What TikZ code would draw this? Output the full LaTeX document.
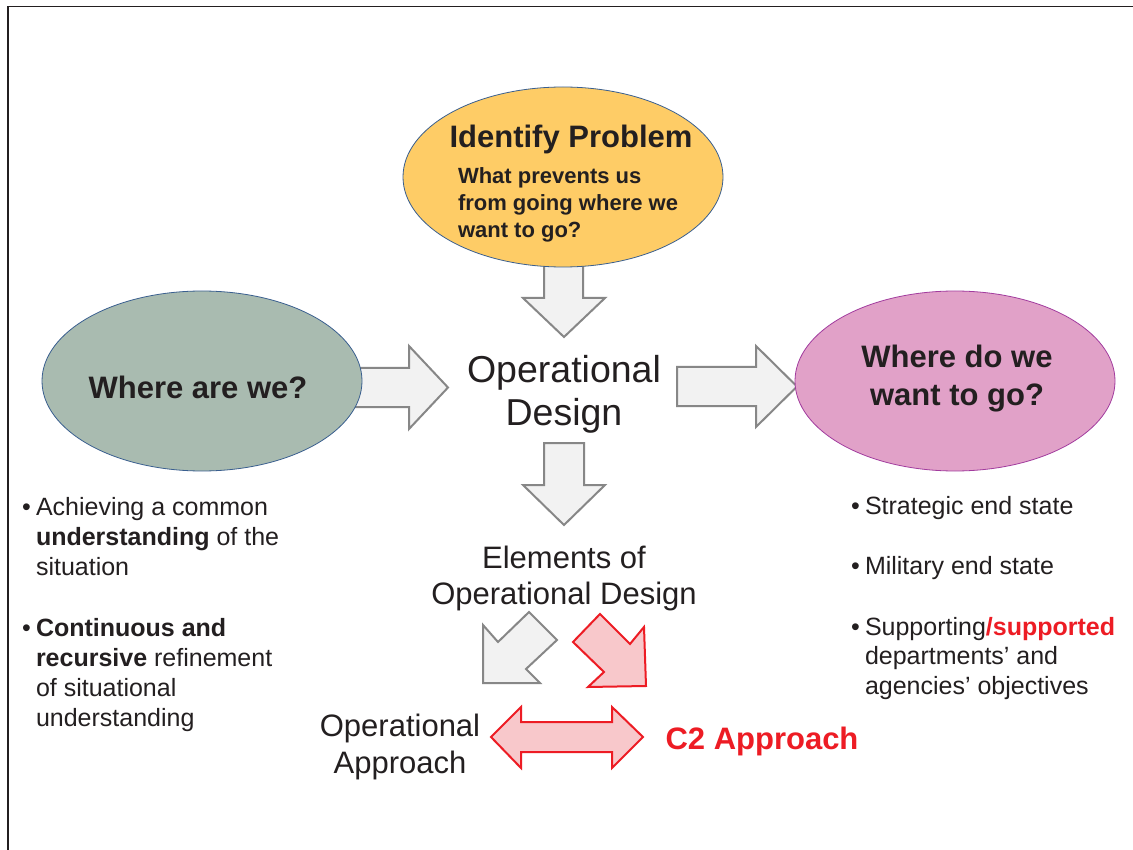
\documentclass[tikz,border=0pt]{standalone}
\usepackage{fontspec}
\setmainfont{Liberation Sans}
\usetikzlibrary{shapes.geometric}
\definecolor{ink}{HTML}{231F20}
\definecolor{yellowfill}{HTML}{FECC66}
\definecolor{greenfill}{HTML}{A9BBB0}
\definecolor{pinkfill}{HTML}{E1A1C8}
\definecolor{blueline}{HTML}{3A5F8F}
\definecolor{purpleline}{HTML}{A23C9E}
\definecolor{arrowfill}{HTML}{F2F2F2}
\definecolor{arrowline}{HTML}{878787}
\definecolor{redline}{HTML}{ED1C24}
\definecolor{redfill}{HTML}{F8C8CB}
\newcommand\setfs[2]{\fontsize{#1}{#2}\selectfont}
\begin{document}
\begin{tikzpicture}[x=1pt,y=-1pt,
  txt/.style={inner sep=0pt, outer sep=0pt, text=ink},
  oval/.style={ellipse, minimum width=320pt, minimum height=180pt, inner sep=0pt, line width=0.8pt},
  grayarrow/.style={fill=arrowfill, draw=arrowline, line width=2pt, line join=miter},
  redarrow/.style={fill=redfill, draw=redline, line width=2pt, line join=miter},
  para/.style={txt, anchor=north west, align=left, font=\setfs{25}{30}},
  bul/.style={txt, anchor=base west, font=\setfs{25}{30}}]
\useasboundingbox (0,0) rectangle (1133,850);
\fill[white] (0,0) rectangle (1133,850);
\draw[ink, line width=1.8pt] (8,850) -- (8,6.5) -- (1133,6.5);

% block arrows (behind the ovals)
\draw[grayarrow] (544,255) -- (544,298) -- (523,298) -- (564,337) -- (605,298) -- (583,298) -- (583,255) -- cycle;
\draw[grayarrow] (345,368) -- (409,368) -- (409,346) -- (448,387.5) -- (409,429) -- (409,407) -- (345,407) -- cycle;
\draw[grayarrow] (677,367) -- (756,367) -- (756,346) -- (797,386.5) -- (756,427) -- (756,406) -- (677,406) -- cycle;
\draw[grayarrow] (544,443) -- (584,443) -- (584,485) -- (605,485) -- (564,525) -- (523,485) -- (544,485) -- cycle;
\draw[grayarrow] (483,683) -- (483,625) -- (498,642) -- (529,612) -- (557,640) -- (526,669) -- (540,683) -- cycle;
\draw[redarrow] (646,686) -- (644,627) -- (630,644) -- (600,614) -- (573,642) -- (604,672) -- (588,687) -- cycle;
\draw[redarrow] (491,737) -- (521,707) -- (521,722) -- (612,722) -- (612,707) -- (643,737) -- (612,768) -- (612,752) -- (521,752) -- (521,768) -- cycle;

% ovals
\node[oval, fill=yellowfill, draw=blueline] (problem) at (563,177) {};
\node[oval, fill=greenfill, draw=blueline] (where) at (202,381) {};
\node[oval, fill=pinkfill, draw=purpleline] (goal) at (955,381) {};

% oval texts
\node[txt, anchor=base, font=\setfs{31}{38}\bfseries] (problemtitle) at (571,148) {Identify Problem};
\node[txt, anchor=north west, align=left, font=\setfs{22}{27}\bfseries] (problemtext) at (458,165.1) {\strut What prevents us\\from going where we\\want to go?};
\node[txt, anchor=base, font=\setfs{31}{38}\bfseries] (wheretext) at (198,399) {Where are we?};
\node[txt, anchor=north, align=center, font=\setfs{31}{38}\bfseries] (goaltext) at (957,341.4) {\strut Where do we\\want to go?};

% centre column texts
\node[txt, anchor=north, align=center, font=\setfs{37.5}{43}] (opdesign) at (564,351.9) {\strut Operational\\Design};
\node[txt, anchor=north, align=center, font=\setfs{31}{36}] (elements) at (564,542.8) {\strut Elements of\\Operational Design};
\node[txt, anchor=north, align=center, font=\setfs{31}{37}] (opapproach) at (400,710.1) {\strut Operational\\Approach};
\node[txt, anchor=base, text=redline, font=\setfs{31}{37}\bfseries] (c2) at (762,749) {C2 Approach};

% left bullets
\node[bul] (lb1) at (22,515) {•};
\node[para] (lp1) at (36,494) {\strut Achieving a common\\\textbf{understanding} of the\\situation};
\node[bul] (lb2) at (22,636) {•};
\node[para] (lp2) at (36,615) {\strut\textbf{Continuous and}\\\textbf{recursive} refinement\\of situational\\understanding};

% right bullets
\node[bul] (rb1) at (851,514) {•};
\node[para] (rp1) at (865,493) {\strut Strategic end state};
\node[bul] (rb2) at (851,574) {•};
\node[para] (rp2) at (865,553) {\strut Military end state};
\node[bul] (rb3) at (851,635) {•};
\node[para, font=\setfs{25}{29.5}] (rp3) at (865,614.35) {\strut Supporting\textcolor{redline}{\textbf{/supported}}\\departments’ and\\agencies’ objectives};
\end{tikzpicture}
\end{document}
